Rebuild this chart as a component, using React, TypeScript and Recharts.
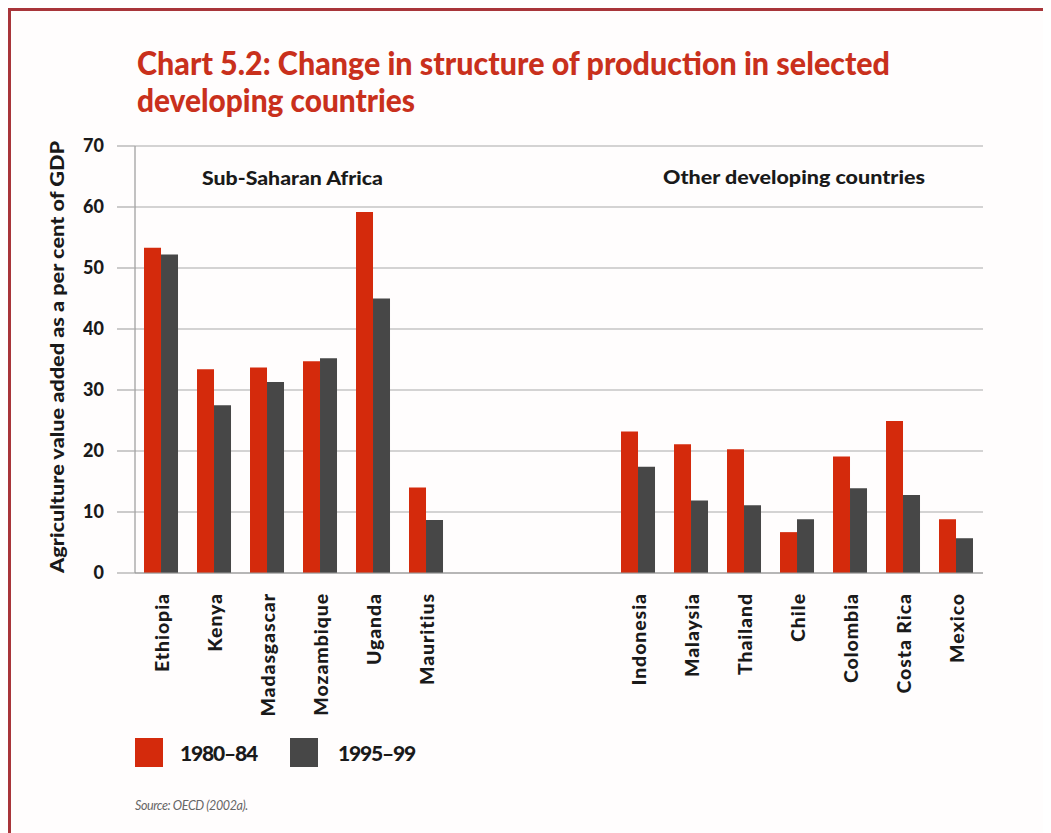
import React from "react";
import { BarChart, Bar, XAxis, YAxis, CartesianGrid } from "recharts";

const countries = [
  "Ethiopia", "Kenya", "Madasgascar", "Mozambique", "Uganda", "Mauritius",
  "", "", "",
  "Indonesia", "Malaysia", "Thailand", "Chile", "Colombia", "Costa Rica", "Mexico",
];
const values1980 = [53.3, 33.4, 33.7, 34.7, 59.2, 14.0, null, null, null, 23.2, 21.1, 20.3, 6.7, 19.1, 24.9, 8.8];
const values1995 = [52.2, 27.5, 31.3, 35.2, 45.0, 8.7, null, null, null, 17.4, 11.9, 11.1, 8.8, 13.9, 12.8, 5.7];
const yTicks = [0, 10, 20, 30, 40, 50, 60, 70];
const seriesNames = ["1980–84", "1995–99"];
const seriesColors = ["#d42a0c", "#474747"];
const titleLines = ["Chart 5.2: Change in structure of production in selected", "developing countries"];
const groupLabels = ["Sub-Saharan Africa", "Other developing countries"];
const yLabel = "Agriculture value added as a per cent of GDP";
const sourceText = "Source: OECD (2002a).";

const data = countries.map((c, i) => ({ country: c, a: values1980[i], b: values1995[i] }));

const FONT = "Lato, 'Open Sans', sans-serif";

const XTick = (props: any) => {
  const { x, y, payload } = props;
  if (!payload.value) return null;
  return (
    <g transform={`translate(${x},${y})`}>
      <text
        transform="rotate(-90)"
        textAnchor="end"
        dy="0.36em"
        fontFamily={FONT}
        fontWeight={900}
        fontSize={19.5}
        letterSpacing={0.9}
        fill="#1a1a1a"
      >
        {payload.value}
      </text>
    </g>
  );
};

export default function App() {
  return (
    <div style={{ position: "relative", width: 1043, height: 825, background: "#fffdfd", fontFamily: FONT }}>
      <div style={{ position: "absolute", left: 0, top: 0, width: 1043, height: 3, background: "#a8353a" }} />
      <div style={{ position: "absolute", left: 0, top: 0, width: 3, height: 825, background: "#a8353a" }} />
      <div style={{ position: "absolute", left: 0, top: 0 }}>
        <BarChart
          width={1043}
          height={825}
          data={data}
          margin={{ top: 138, right: 68, bottom: 60, left: 0 }}
          barCategoryGap="17%"
          barGap={0}
        >
          <CartesianGrid vertical={false} stroke="#aaaaaa" strokeWidth={1.2} />
          <XAxis
            dataKey="country"
            height={200}
            interval={0}
            tick={<XTick />}
            tickLine={false}
            tickSize={0}
            tickMargin={20}
            axisLine={{ stroke: "#999999", strokeWidth: 1.2 }}
          />
          <YAxis
            domain={[0, 70]}
            ticks={yTicks}
            width={127}
            tickSize={18}
            tickMargin={13}
            tickLine={{ stroke: "#aaaaaa", strokeWidth: 1.2 }}
            axisLine={{ stroke: "#999999", strokeWidth: 1.2 }}
            tick={{ fontFamily: FONT, fontWeight: 900, fontSize: 18, fill: "#1a1a1a" }}
            interval={0}
          />
          <YAxis
            yAxisId="right"
            orientation="right"
            domain={[0, 70]}
            width={0}
            tick={false}
            tickLine={false}
            axisLine={{ stroke: "#999999", strokeWidth: 1.2 }}
          />
          <Bar dataKey="a" name={seriesNames[0]} fill={seriesColors[0]} isAnimationActive={false} />
          <Bar dataKey="b" name={seriesNames[1]} fill={seriesColors[1]} isAnimationActive={false} />
        </BarChart>
      </div>
      <svg width={1043} height={825} style={{ position: "absolute", left: 0, top: 0, pointerEvents: "none" }}>
        <text x={129} y={67} fontFamily={FONT} fontWeight={900} fontSize={32} fill="#c9301c" textLength={753} lengthAdjust="spacingAndGlyphs">
          {titleLines[0]}
        </text>
        <text x={129} y={104} fontFamily={FONT} fontWeight={900} fontSize={32} fill="#c9301c" textLength={278} lengthAdjust="spacingAndGlyphs">
          {titleLines[1]}
        </text>
        <text x={194} y={170} dy="0.36em" fontFamily={FONT} fontWeight={900} fontSize={19} fill="#1a1a1a" textLength={181} lengthAdjust="spacingAndGlyphs">
          {groupLabels[0]}
        </text>
        <text x={655} y={169} dy="0.36em" fontFamily={FONT} fontWeight={900} fontSize={19} fill="#1a1a1a" textLength={262} lengthAdjust="spacingAndGlyphs">
          {groupLabels[1]}
        </text>
        <text
          transform="translate(50,349) rotate(-90)"
          textAnchor="middle"
          dy="0.36em"
          fontFamily={FONT}
          fontWeight={900}
          fontSize={18}
          fill="#1a1a1a"
          textLength={432}
          lengthAdjust="spacingAndGlyphs"
        >
          {yLabel}
        </text>
      </svg>
      {seriesNames.map((n, i) => (
        <div key={n} style={{ position: "absolute", left: i === 0 ? 127 : 282, top: 730, display: "flex", alignItems: "center" }}>
          <div style={{ width: 28, height: 29, background: seriesColors[i] }} />
          <span style={{ marginLeft: i === 0 ? 17 : 20, fontWeight: 900, fontSize: 21, color: "#1a1a1a", letterSpacing: -1.2 }}>{n}</span>
        </div>
      ))}
      <div style={{ position: "absolute", left: 127, top: 790, fontStyle: "italic", fontSize: 12.5, color: "#666", letterSpacing: -0.4 }}>
        {sourceText}
      </div>
    </div>
  );
}
